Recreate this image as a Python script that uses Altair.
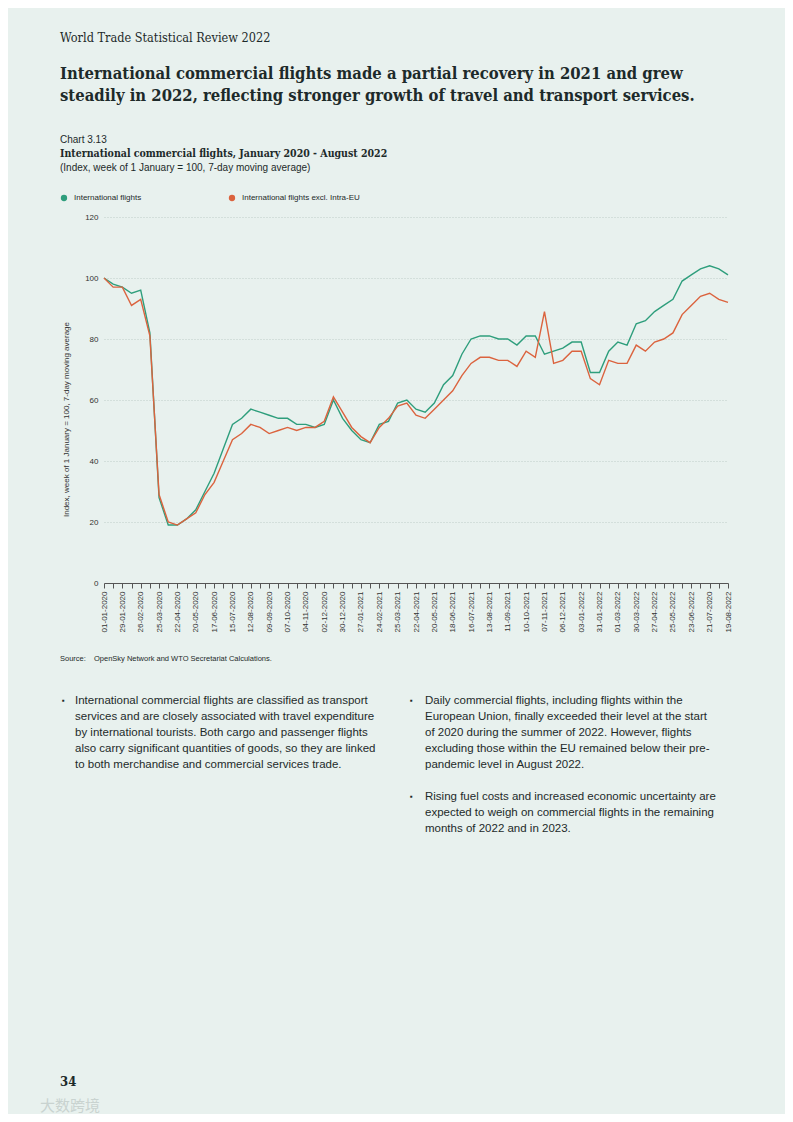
import altair as alt
import pandas as pd

# ---------------- data ----------------
tick_labels = ["01-01-2020", "29-01-2020", "26-02-2020", "25-03-2020", "22-04-2020", "20-05-2020",
               "17-06-2020", "15-07-2020", "12-08-2020", "09-09-2020", "07-10-2020", "04-11-2020",
               "02-12-2020", "30-12-2020", "27-01-2021", "24-02-2021", "25-03-2021", "22-04-2021",
               "20-05-2021", "18-06-2021", "16-07-2021", "13-08-2021", "11-09-2021", "10-10-2021",
               "07-11-2021", "06-12-2021", "03-01-2022", "31-01-2022", "01-03-2022", "30-03-2022",
               "27-04-2022", "25-05-2022", "23-06-2022", "21-07-2020", "19-08-2022"]

intl_flights = [100, 98, 97, 95, 96, 82, 28, 19, 19, 21, 24, 30, 36, 44, 52, 54, 57, 56, 55, 54,
                54, 52, 52, 51, 52, 60, 54, 50, 47, 46, 52, 53, 59, 60, 57, 56, 59, 65, 68, 75,
                80, 81, 81, 80, 80, 78, 81, 81, 75, 76, 77, 79, 79, 69, 69, 76, 79, 78, 85, 86,
                89, 91, 93, 99, 101, 103, 104, 103, 101]

intl_excl_eu = [100, 97, 97, 91, 93, 81, 29, 20, 19, 21, 23, 29, 33, 40, 47, 49, 52, 51, 49, 50,
                51, 50, 51, 51, 53, 61, 56, 51, 48, 46, 51, 54, 58, 59, 55, 54, 57, 60, 63, 68,
                72, 74, 74, 73, 73, 71, 76, 74, 89, 72, 73, 76, 76, 67, 65, 73, 72, 72, 78, 76,
                79, 80, 82, 88, 91, 94, 95, 93, 92]

series_names = ["International flights", "International flights excl. Intra-EU"]

n = len(intl_flights)
df = pd.DataFrame({
    "idx": list(range(n)) * 2,
    "value": intl_flights + intl_excl_eu,
    "series": [series_names[0]] * n + [series_names[1]] * n,
})

GREEN = "#2e9e7c"
RED = "#db633e"
BG = "#e8f1ee"
DARK = "#1d2a2a"
SERIF = "DejaVu Serif Condensed, DejaVu Serif"

W, H = 624, 366
OX, OY = 104, 217  # page position of plot origin


def txt(s, px, py, size=11, weight="normal", font="Liberation Sans", color=DARK, align="left"):
    return alt.Chart(pd.DataFrame({"t": [s]})).mark_text(
        align=align, baseline="middle", fontSize=size, fontWeight=weight, font=font,
        color=color, clip=False
    ).encode(x=alt.value(px - OX), y=alt.value(py - OY), text="t:N")


def dot(px, py, color):
    return alt.Chart(pd.DataFrame({"d": [0]})).mark_circle(
        size=40, opacity=1, color=color, clip=False
    ).encode(x=alt.value(px - OX), y=alt.value(py - OY))


label_expr = ("datum.value % 2 == 0 ? " + str(tick_labels) + "[datum.value / 2] : ''")

lines = alt.Chart(df).mark_line(strokeWidth=1.4).encode(
    x=alt.X("idx:Q",
            scale=alt.Scale(domain=[0, n - 1], nice=False, zero=False),
            axis=alt.Axis(values=list(range(n)), labelExpr=label_expr, labelAngle=270,
                          labelFontSize=8, labelFont="Liberation Sans", labelColor="#333",
                          labelPadding=3, labelOverlap=False, labelFlush=False,
                          domainColor="#555", tickColor="#555", tickSize=5, grid=False,
                          title=None)),
    y=alt.Y("value:Q",
            scale=alt.Scale(domain=[0, 120], nice=False),
            axis=alt.Axis(values=[0, 20, 40, 60, 80, 100, 120], domain=False, ticks=False,
                          labelFontSize=8, labelFont="Liberation Sans", labelColor="#333",
                          labelPadding=6, gridColor="#bfcdc8", gridDash=[1, 2], gridWidth=1,
                          title="Index, week of 1  January = 100, 7-day moving average",
                          titleFontSize=8, titleFont="Liberation Sans", titleFontWeight="normal",
                          titleColor="#333", titlePadding=14, titleY=202)),
    color=alt.Color("series:N", scale=alt.Scale(domain=series_names, range=[GREEN, RED]),
                    legend=None),
)

texts = [
    txt("World Trade Statistical Review 2022", 60, 38, 12.6, "normal", SERIF),
    txt("International commercial flights made a partial recovery in 2021 and grew", 60, 74, 16.5, "bold", SERIF),
    txt("steadily in 2022, reflecting stronger growth of travel and transport services.", 60, 96, 16.5, "bold", SERIF),
    txt("Chart 3.13", 60, 140, 10),
    txt("International commercial flights, January 2020 - August 2022", 60, 154, 10.5, "bold", SERIF),
    txt("(Index, week of 1 January = 100, 7-day moving average)", 60, 168, 10),
    txt("International flights", 74, 198, 8),
    txt("International flights excl. Intra-EU", 242, 198, 8),
    txt("Source:", 60, 659, 7.5),
    txt("OpenSky Network and WTO Secretariat Calculations.", 94, 659, 7.5),
    txt("\u25aa", 62, 701, 8),
    txt("International commercial flights are classified as transport", 75, 701, 11.5),
    txt("services and are closely associated with travel expenditure", 75, 717, 11.5),
    txt("by international tourists. Both cargo and passenger flights", 75, 733, 11.5),
    txt("also carry significant quantities of goods, so they are linked", 75, 749, 11.5),
    txt("to both merchandise and commercial services trade.", 75, 765, 11.5),
    txt("\u25aa", 410, 701, 8),
    txt("Daily commercial flights, including flights within the", 425, 701, 11.5),
    txt("European Union, finally exceeded their level at the start", 425, 717, 11.5),
    txt("of 2020 during the summer of 2022. However, flights", 425, 733, 11.5),
    txt("excluding those within the EU remained below their pre-", 425, 749, 11.5),
    txt("pandemic level in August 2022.", 425, 765, 11.5),
    txt("\u25aa", 410, 797, 8),
    txt("Rising fuel costs and increased economic uncertainty are", 425, 797, 11.5),
    txt("expected to weigh on commercial flights in the remaining", 425, 813, 11.5),
    txt("months of 2022 and in 2023.", 425, 829, 11.5),
    txt("34", 60, 1082, 13, "bold", SERIF),
    txt("大数跨境", 40, 1106, 15, "normal", "Noto Sans CJK SC", "#c9d3d0"),
]

chart = alt.layer(lines, dot(64, 198, GREEN), dot(232, 198, RED), *texts).properties(
    width=W, height=H,
    autosize=alt.AutoSizeParams(type="none"),
    padding={"left": OX - 8, "top": OY - 8, "right": 777 - (OX - 8) - W, "bottom": 1106 - (OY - 8) - H},
    background=BG,
).configure_view(stroke=None)

chart.save("out.html", embed_options={"renderer": "svg", "actions": False})
